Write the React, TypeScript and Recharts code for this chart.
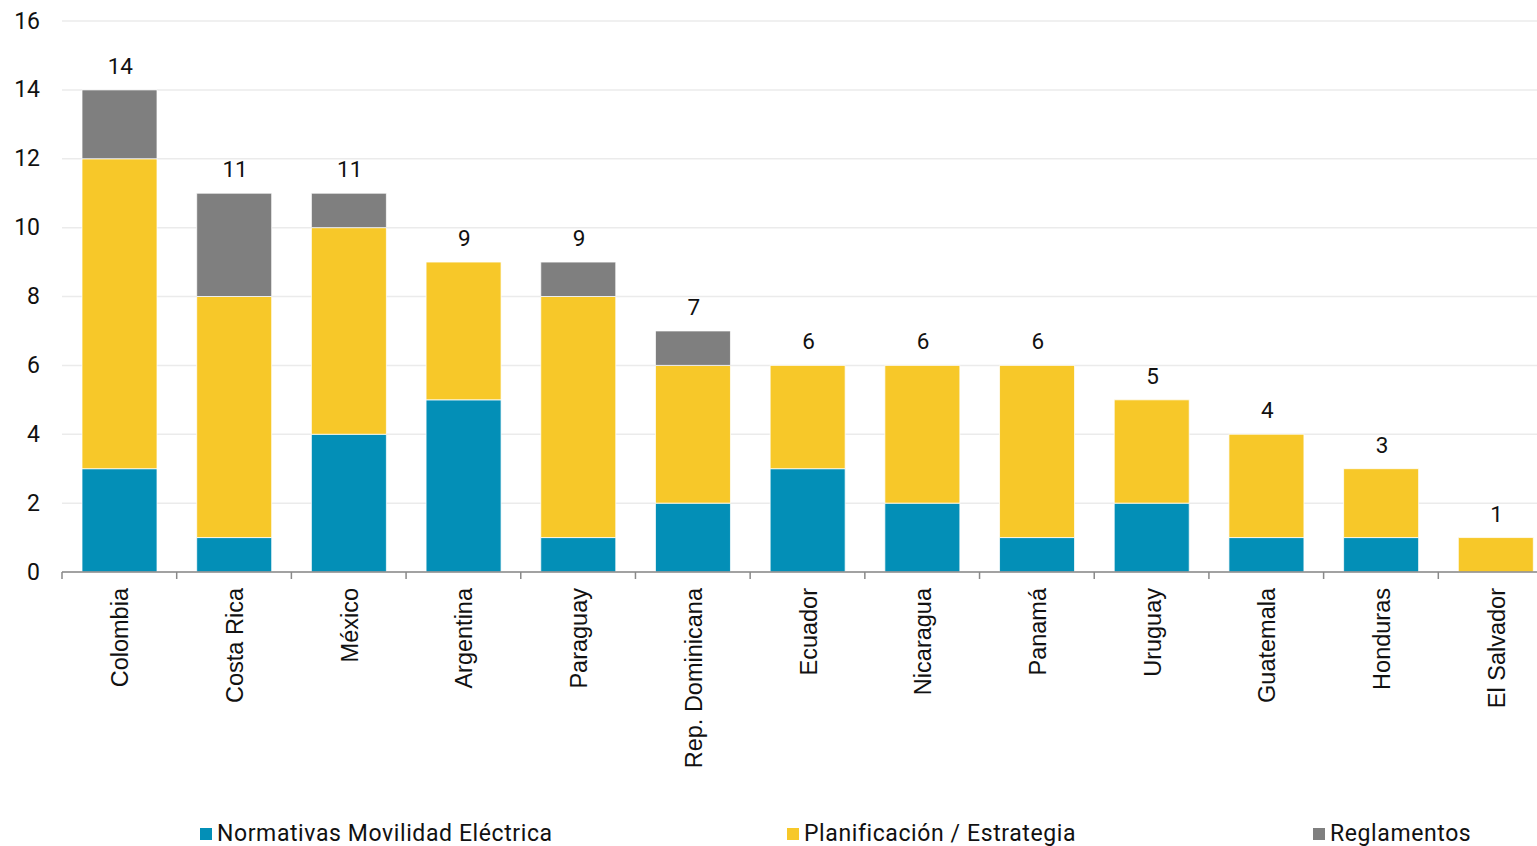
import React from 'react';
import {
  ComposedChart,
  Bar,
  Line,
  XAxis,
  YAxis,
  CartesianGrid,
  Legend,
  LabelList,
} from 'recharts';

// categories and series values
const countries = [
  'Colombia', 'Costa Rica', 'México', 'Argentina', 'Paraguay', 'Rep. Dominicana',
  'Ecuador', 'Nicaragua', 'Panamá', 'Uruguay', 'Guatemala', 'Honduras', 'El Salvador',
];
const normativas = [3, 1, 4, 5, 1, 2, 3, 2, 1, 2, 1, 1, 0];
const planificacion = [9, 7, 6, 4, 7, 4, 3, 4, 5, 3, 3, 2, 1];
const reglamentos = [2, 3, 1, 0, 1, 1, 0, 0, 0, 0, 0, 0, 0];
const yTicks = [0, 2, 4, 6, 8, 10, 12, 14, 16];

const seriesNames = ['Normativas Movilidad Eléctrica', 'Planificación / Estrategia', 'Reglamentos'];
const seriesColors = ['#038FB7', '#F7C829', '#7F7F7F'];

const data = countries.map((name, i) => ({
  name,
  normativas: normativas[i],
  planificacion: planificacion[i],
  reglamentos: reglamentos[i],
  total: normativas[i] + planificacion[i] + reglamentos[i],
}));

// layout
const CHART_W = 1553;
const CHART_H = 846;
const Y_AXIS_W = 62;
const BAND = (CHART_W - Y_AXIS_W) / countries.length;

const numFont = 'Roboto, sans-serif';

const XTick = (props: any) => {
  const { x, y, payload } = props;
  const bx = x - BAND / 2;
  return (
    <g>
      <line x1={bx} y1={y} x2={bx} y2={y + 7} stroke="#898989" strokeWidth={1.5} />
      <text
        x={x + 1}
        y={y + 16}
        transform={`rotate(-90, ${x + 1}, ${y + 16})`}
        textAnchor="end"
        dominantBaseline="central"
        fontFamily="'Liberation Sans', Arial, sans-serif"
        fontSize={23.5}
        fill="#111"
      >
        {payload.value}
      </text>
    </g>
  );
};

const YTick = (props: any) => {
  const { x, y, payload } = props;
  return (
    <text
      x={x - 22}
      y={y}
      textAnchor="end"
      dominantBaseline="central"
      fontFamily={numFont}
      fontSize={23}
      fill="#111"
    >
      {payload.value}
    </text>
  );
};

const TotalLabel = (props: any) => {
  const { x, y, value } = props;
  return (
    <text x={x + 1} y={y - 16} textAnchor="middle" fontFamily={numFont} fontSize={22.5} fill="#111">
      {value}
    </text>
  );
};

const legendLefts = [200, 787, 1313];

const LegendContent = () => (
  <div style={{ position: 'relative', width: 1537, height: 32 }}>
    {seriesNames.map((n, i) => (
      <div
        key={n}
        style={{
          position: 'absolute',
          left: legendLefts[i],
          top: 0,
          display: 'flex',
          alignItems: 'center',
          fontFamily: numFont,
          fontSize: 23,
          letterSpacing: 0.6,
          color: '#111',
          whiteSpace: 'nowrap',
        }}
      >
        <span style={{ width: 12, height: 12, background: seriesColors[i], marginRight: 5, display: 'inline-block' }} />
        {n}
      </div>
    ))}
  </div>
);

export default function App() {
  return (
    <div
      style={{
        position: 'absolute',
        left: 0,
        top: 0,
        width: 1537,
        height: 846,
        overflow: 'hidden',
        background: '#fff',
      }}
    >
      <ComposedChart
        width={CHART_W}
        height={CHART_H}
        data={data}
        margin={{ top: 21, right: 0, bottom: 0, left: 0 }}
      >
        <CartesianGrid vertical={false} stroke="#EBEBEB" strokeWidth={1.5} />
        <XAxis
          dataKey="name"
          interval={0}
          height={274}
          tickLine={false}
          tickSize={0}
          tickMargin={0}
          axisLine={{ stroke: '#898989', strokeWidth: 1.5 }}
          tick={<XTick />}
        />
        <YAxis
          width={Y_AXIS_W}
          domain={[0, 16]}
          ticks={yTicks}
          interval={0}
          axisLine={false}
          tickLine={false}
          tickSize={0}
          tickMargin={0}
          tick={<YTick />}
        />
        <Legend
          layout="horizontal"
          verticalAlign="middle"
          align="center"
          wrapperStyle={{ top: 820, left: 0, width: 1537 }}
          content={<LegendContent />}
        />
        <Bar dataKey="normativas" name={seriesNames[0]} stackId="a" fill={seriesColors[0]} stroke="#fff" strokeWidth={0.75} barSize={75} isAnimationActive={false} />
        <Bar dataKey="planificacion" name={seriesNames[1]} stackId="a" fill={seriesColors[1]} stroke="#fff" strokeWidth={0.75} barSize={75} isAnimationActive={false} />
        <Bar dataKey="reglamentos" name={seriesNames[2]} stackId="a" fill={seriesColors[2]} stroke="#fff" strokeWidth={0.75} barSize={75} isAnimationActive={false} />
        <Line
          dataKey="total"
          stroke="none"
          strokeWidth={0}
          dot={false}
          activeDot={false}
          legendType="none"
          isAnimationActive={false}
        >
          <LabelList dataKey="total" content={<TotalLabel />} />
        </Line>
      </ComposedChart>
    </div>
  );
}
